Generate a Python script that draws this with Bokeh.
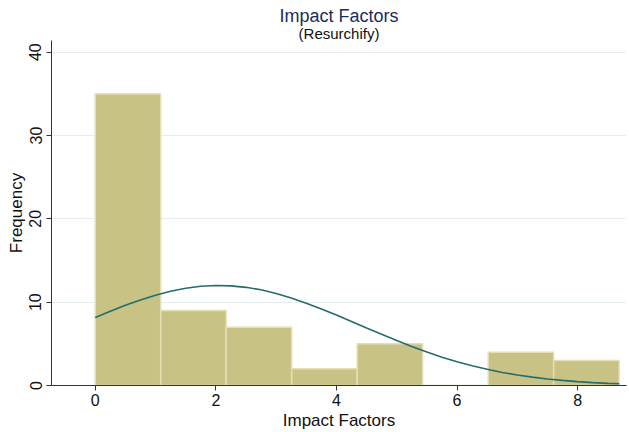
from bokeh.plotting import figure
from bokeh.models import Title, Range1d, FixedTicker
from bokeh.embed import file_html
from bokeh.resources import INLINE

# ---- data ----
bin_edges = [0.0, 1.086, 2.172, 3.258, 4.344, 5.430, 6.516, 7.602, 8.688]
counts = [35, 9, 7, 2, 5, 0, 4, 3]

curve_x = [0.0, 0.25, 0.5, 0.75, 1.0, 1.25, 1.5, 1.75, 2.0, 2.25, 2.5, 2.75,
           3.0, 3.25, 3.5, 3.75, 4.0, 4.25, 4.5, 4.75, 5.0, 5.25, 5.5, 5.75,
           6.0, 6.25, 6.5, 6.75, 7.0, 7.25, 7.5, 7.75, 8.0, 8.25, 8.5, 8.69]
curve_y = [8.15, 8.90, 9.62, 10.27, 10.84, 11.31, 11.67, 11.91, 12.0, 11.96,
           11.78, 11.48, 11.04, 10.50, 9.88, 9.19, 8.46, 7.69, 6.90, 6.14,
           5.39, 4.68, 4.01, 3.40, 2.85, 2.37, 1.94, 1.57, 1.26, 1.00,
           0.78, 0.61, 0.46, 0.35, 0.26, 0.21]

x_ticks = [0, 2, 4, 6, 8]
y_ticks = [0, 10, 20, 30, 40]

FONT = "Liberation Sans"

p = figure(width=629, height=432, output_backend="svg", toolbar_location=None,
           x_range=Range1d(-0.725, 8.81), y_range=Range1d(0, 41.4),
           min_border_left=51, min_border_right=3, min_border_top=40,
           min_border_bottom=47, title=None)

p.add_layout(Title(text="(Resurchify)", align="center", text_font=FONT,
                   text_font_size="15px", text_font_style="normal",
                   text_color="#111111", standoff=-2, offset=0), "above")
p.add_layout(Title(text="Impact Factors", align="center", text_font=FONT,
                   text_font_size="18px", text_font_style="normal",
                   text_color="#1c2b5c", standoff=-4, offset=0), "above")

lefts = bin_edges[:-1]
rights = bin_edges[1:]
p.quad(left=lefts, right=rights, top=counts, bottom=0,
       fill_color="#c9c285", line_color="#e4e0b6", line_width=1.5)

p.line(curve_x, curve_y, line_color="#236e6a", line_width=1.6)

p.outline_line_color = None
p.background_fill_color = "white"
p.border_fill_color = "white"
p.xgrid.grid_line_color = None
p.ygrid.grid_line_color = "#e4eef0"
p.ygrid.grid_line_width = 1

p.xaxis.ticker = FixedTicker(ticks=x_ticks)
p.yaxis.ticker = FixedTicker(ticks=y_ticks)

for ax in (p.xaxis[0], p.yaxis[0]):
    ax.axis_line_color = "#333333"
    ax.major_tick_line_color = "#333333"
    ax.major_tick_out = 5
    ax.major_tick_in = 0
    ax.minor_tick_line_color = None
    ax.major_label_text_font = FONT
    ax.major_label_text_font_size = "16px"
    ax.major_label_text_color = "#111111"
    ax.axis_label_text_font = FONT
    ax.axis_label_text_font_size = "17px"
    ax.axis_label_text_font_style = "normal"
    ax.axis_label_text_color = "#111111"

p.xaxis.axis_label = "Impact Factors"
p.yaxis.axis_label = "Frequency"
p.xaxis.major_label_standoff = 3
p.xaxis.axis_label_standoff = 2
p.yaxis.major_label_orientation = "vertical"
p.yaxis.major_label_standoff = 5
p.yaxis.axis_label_standoff = 1

open("out.html", "w").write(file_html(p, INLINE))
